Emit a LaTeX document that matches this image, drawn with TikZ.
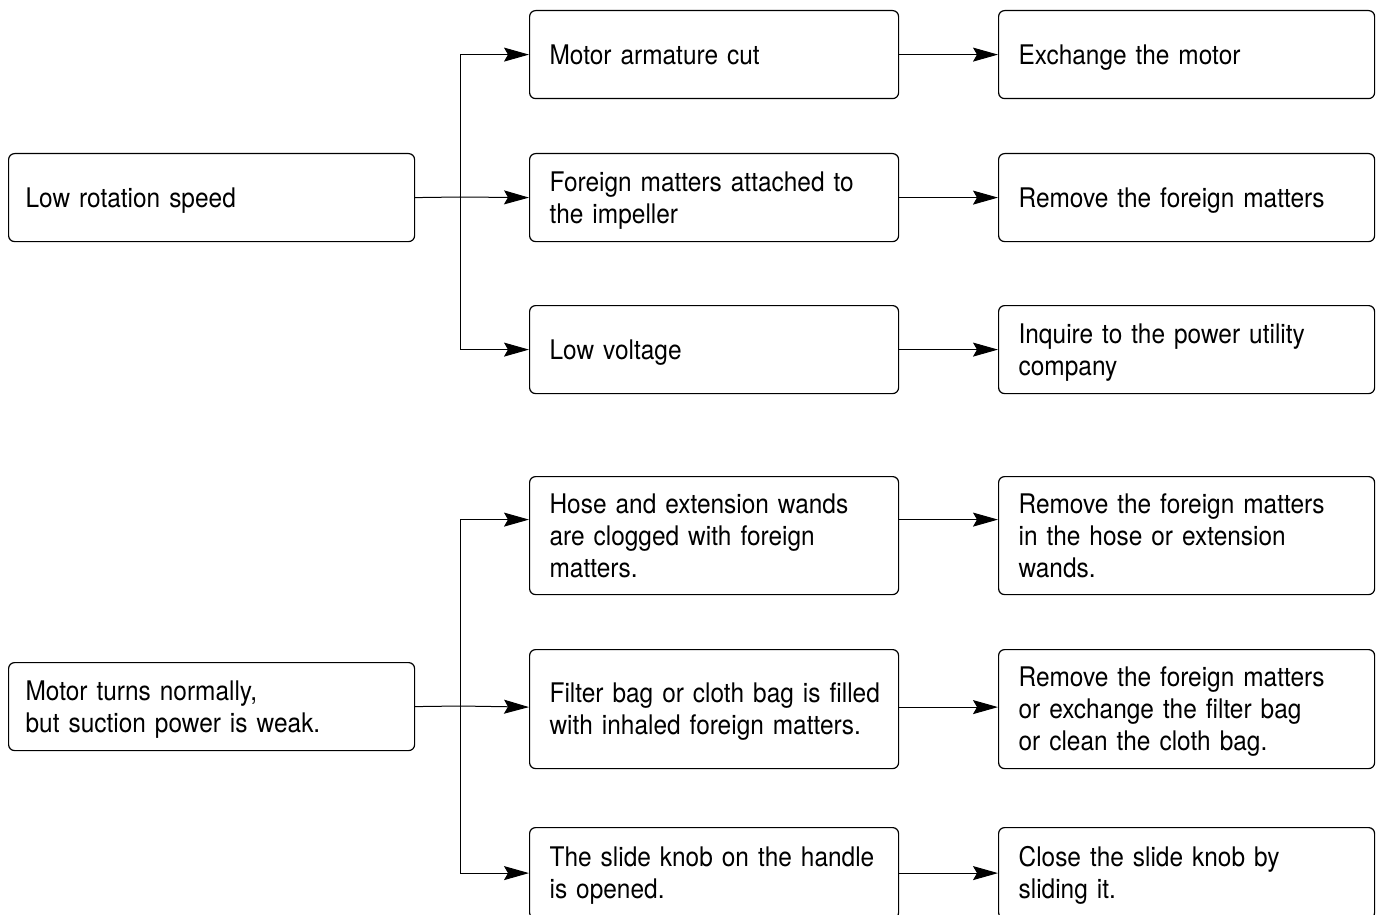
\documentclass[tikz,border=0pt]{standalone}
\usepackage{fontspec}
\setmainfont{TeX Gyre Heros}[FakeStretch=0.905]
\usetikzlibrary{arrows.meta}
\begin{document}
\begin{tikzpicture}[x=1pt,y=-1pt,
  box/.style={draw, rounded corners=6pt, line width=1.2pt, inner xsep=20pt, inner ysep=0pt,
    align=left, anchor=north west, font=\fontsize{27}{32}\selectfont, text height=19.4pt},
  one/.style={text depth=0pt},
  two/.style={text depth=32pt},
  three/.style={text depth=64pt},
  lbox/.style={box, inner xsep=17pt, text width=372pt, minimum height=88pt},
  mbox/.style={box, text width=329pt},
  rbox/.style={box, text width=336pt},
  line/.style={line width=1pt},
  arr/.style={line width=1pt, -{Stealth[length=25pt,width=14pt,inset=4pt]}}]
\useasboundingbox (0,0) rectangle (1377,915);
\clip (0,0) rectangle (1377,915);
% left
\node[lbox, one] (l1) at (8,153) {Low rotation speed};
\node[lbox, two] (l2) at (8,662) {Motor turns normally,\\but suction power is weak.};
% middle
\node[mbox, one, minimum height=88pt] (m1) at (529,10) {Motor armature cut};
\node[mbox, two, minimum height=88pt] (m2) at (529,153) {Foreign matters attached to\\the impeller};
\node[mbox, one, minimum height=88pt] (m3) at (529,305) {Low voltage};
\node[mbox, three, minimum height=118pt] (m4) at (529,476) {Hose and extension wands\\are clogged with foreign\\matters.};
\node[mbox, two, minimum height=119pt] (m5) at (529,649) {\mbox{Filter bag or cloth bag is filled}\\with inhaled foreign matters.};
\node[mbox, two, minimum height=91pt] (m6) at (529,827) {The slide knob on the handle\\is opened.};
% right
\node[rbox, one, minimum height=88pt] (r1) at (998,10) {Exchange the motor};
\node[rbox, one, minimum height=88pt] (r2) at (998,153) {Remove the foreign matters};
\node[rbox, two, minimum height=88pt] (r3) at (998,305) {Inquire to the power utility\\company};
\node[rbox, three, minimum height=118pt] (r4) at (998,476) {Remove the foreign matters\\in the hose or extension\\wands.};
\node[rbox, three, minimum height=119pt] (r5) at (998,649) {Remove the foreign matters\\or exchange the filter bag\\or clean the cloth bag.};
\node[rbox, two, minimum height=91pt] (r6) at (998,827) {Close the slide knob by\\sliding it.};
% connectors group 1
\coordinate (j1) at (460,197);
\draw[line] (l1.east) -- (j1);
\draw[arr] (j1) |- (m1.west);
\draw[arr] (j1) -- (m2.west);
\draw[arr] (j1) |- (m3.west);
\draw[arr] (m1) -- (r1);
\draw[arr] (m2) -- (r2);
\draw[arr] (m3) -- (r3);
% connectors group 2
\coordinate (j2) at (460,706);
\draw[line] (l2.east) -- (j2);
\draw[arr] (j2) |- ([yshift=16pt]m4.west);
\draw[arr] (j2) -- ([yshift=2pt]m5.west);
\draw[arr] (j2) |- (m6.west);
\draw[arr] ([yshift=16pt]m4.east) -- ([yshift=16pt]r4.west);
\draw[arr] ([yshift=2pt]m5.east) -- ([yshift=2pt]r5.west);
\draw[arr] (m6) -- (r6);
\end{tikzpicture}
\end{document}
